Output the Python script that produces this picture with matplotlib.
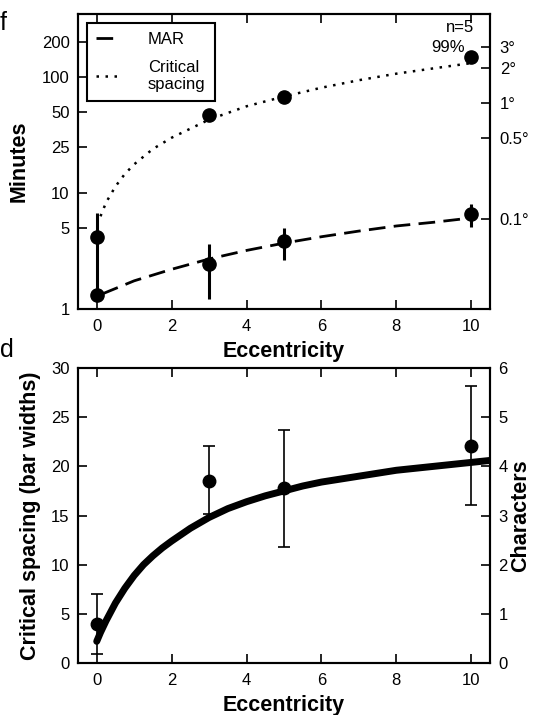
# Crowding figure: MAR vs critical spacing (f) and critical spacing in bar widths (d)

import matplotlib.pyplot as plt

plt.rcParams['font.family'] = ['Liberation Sans', 'DejaVu Sans']
plt.rcParams['font.size'] = 12

# ---- panel f data (minutes) ----
ecc = [0, 3, 5, 10]
mar = [1.32, 2.45, 3.85, 6.6]
mar_lo = [1.32, 1.22, 2.67, 5.05]
mar_hi = [1.32, 3.6, 5.0, 8.1]
crit = [4.2, 47, 68, 148]
crit_lo = [1.3, 47, 68, 148]
crit_hi = [6.7, 47, 68, 148]

# fitted lines
mar_fit_x = [0.15, 1, 2, 3, 4, 5, 6, 7, 8, 9, 10]
mar_fit_y = [1.35, 1.75, 2.2, 2.7, 3.2, 3.7, 4.2, 4.7, 5.2, 5.6, 6.1]
crit_fit_x = [0.1, 0.25, 0.5, 0.75, 1, 1.5, 2, 3, 4, 5, 6, 7, 8, 9, 10]
crit_fit_y = [6.3, 8.3, 11.4, 14.6, 17.7, 24, 30, 43, 56, 68, 81, 94, 107, 119, 132]

deg_ticks = [180, 120, 60, 30, 6]
deg_labels = ['3°', '2°', '1°', '0.5°', '0.1°']
min_ticks = [1, 5, 10, 25, 50, 100, 200]

# ---- panel d data (bar widths) ----
cs_bar = [3.95, 18.55, 17.8, 22.1]
cs_bar_lo = [0.9, 15.2, 11.75, 16.1]
cs_bar_hi = [7.0, 22.1, 23.7, 28.2]
bar_fit_x = [0, 0.1, 0.25, 0.5, 0.75, 1, 1.25, 1.5, 1.75, 2, 2.5, 3, 3.5, 4, 4.5,
             5, 5.5, 6, 6.5, 7, 7.5, 8, 9, 10, 10.5]
bar_fit_y = [2.2, 3.1, 4.3, 6.1, 7.6, 8.9, 10.0, 10.9, 11.7, 12.4, 13.7, 14.8, 15.7,
             16.4, 17.0, 17.5, 18.0, 18.4, 18.7, 19.0, 19.3, 19.6, 20.0, 20.4, 20.6]


def style_axes(ax):
    for s in ax.spines.values():
        s.set_linewidth(1.5)
    ax.tick_params(direction='in', length=6.3, width=1.2, labelsize=12)
    ax.tick_params(axis='x', pad=7)
    ax.tick_params(axis='y', pad=6)


W, H = 534, 715
fig = plt.figure(figsize=(W / 100, H / 100), dpi=100)
LBL = dict(fontsize=15.5, fontweight='bold')

# ---------------- panel f ----------------
ax1 = fig.add_axes([78 / W, 1 - 309 / H, 412 / W, 295 / H])
ax1.set_yscale('log')
ax1.plot(mar_fit_x, mar_fit_y, color='black', lw=2, linestyle=(0, (6, 3)), label='MAR')
ax1.plot(crit_fit_x, crit_fit_y, color='black', lw=1.8, linestyle=(0, (1, 2.6)),
         label='Critical\nspacing')
ax1.errorbar(ecc, mar, yerr=[[m - l for m, l in zip(mar, mar_lo)],
                             [h - m for m, h in zip(mar, mar_hi)]],
             fmt='o', color='black', ms=9.5, elinewidth=2.2, capsize=0)
ax1.errorbar(ecc, crit, yerr=[[m - l for m, l in zip(crit, crit_lo)],
                              [h - m for m, h in zip(crit, crit_hi)]],
             fmt='o', color='black', ms=9.5, elinewidth=2.2, capsize=0)
ax1.set_xlim(-0.5, 10.5)
ax1.set_ylim(1, 350)
ax1.set_xticks([0, 2, 4, 6, 8, 10])
ax1.set_yticks(min_ticks)
ax1.set_yticklabels([str(t) for t in min_ticks])
ax1.minorticks_off()
ax1.tick_params(top=True)
style_axes(ax1)
ax1.set_xlabel('Eccentricity', labelpad=5, **LBL)
ax1.set_ylabel('Minutes', labelpad=9, **LBL)
leg = ax1.legend(loc='upper left', bbox_to_anchor=(0.022, 0.969), borderaxespad=0,
                 fancybox=False, edgecolor='black', handlelength=1.5,
                 handletextpad=1.6, fontsize=12, framealpha=1, labelspacing=0.75,
                 borderpad=0.55)
leg.get_frame().set_linewidth(1.5)
ax1.text(0.962, 0.955, 'n=5', transform=ax1.transAxes, ha='right', va='center', fontsize=12)
ax1.text(0.94, 0.885, '99%', transform=ax1.transAxes, ha='right', va='center', fontsize=12)

ax1r = ax1.twinx()
ax1r.set_yscale('log')
ax1r.set_ylim(1, 350)
ax1r.set_yticks(deg_ticks)
ax1r.set_yticklabels(deg_labels)
ax1r.minorticks_off()
style_axes(ax1r)
ax1r.tick_params(axis='y', pad=7)

# ---------------- panel d ----------------
ax2 = fig.add_axes([78 / W, 1 - 663 / H, 412 / W, 295 / H])
ax2.plot(bar_fit_x, bar_fit_y, color='black', lw=5, solid_capstyle='round',
         solid_joinstyle='round')
ax2.errorbar(ecc, cs_bar, yerr=[[m - l for m, l in zip(cs_bar, cs_bar_lo)],
                                [h - m for m, h in zip(cs_bar, cs_bar_hi)]],
             fmt='o', color='black', ms=9, elinewidth=1.2, capsize=4.5, capthick=1.2)
ax2.set_xlim(-0.5, 10.5)
ax2.set_ylim(0, 30)
ax2.set_xticks([0, 2, 4, 6, 8, 10])
ax2.set_yticks([0, 5, 10, 15, 20, 25, 30])
ax2.tick_params(top=True)
style_axes(ax2)
ax2.set_xlabel('Eccentricity', labelpad=5, **LBL)
ax2.set_ylabel('Critical spacing (bar widths)', labelpad=7, **LBL)

ax2r = ax2.twinx()
ax2r.set_ylim(0, 6)
ax2r.set_yticks([0, 1, 2, 3, 4, 5, 6])
style_axes(ax2r)
ax2r.set_ylabel('Characters', labelpad=2, **LBL)

# panel letters
fig.text(0.0, 0.985, 'f', fontsize=18, ha='left', va='top')
fig.text(0.0, 0.527, 'd', fontsize=18, ha='left', va='top')

fig.savefig('out.png', dpi=100)
